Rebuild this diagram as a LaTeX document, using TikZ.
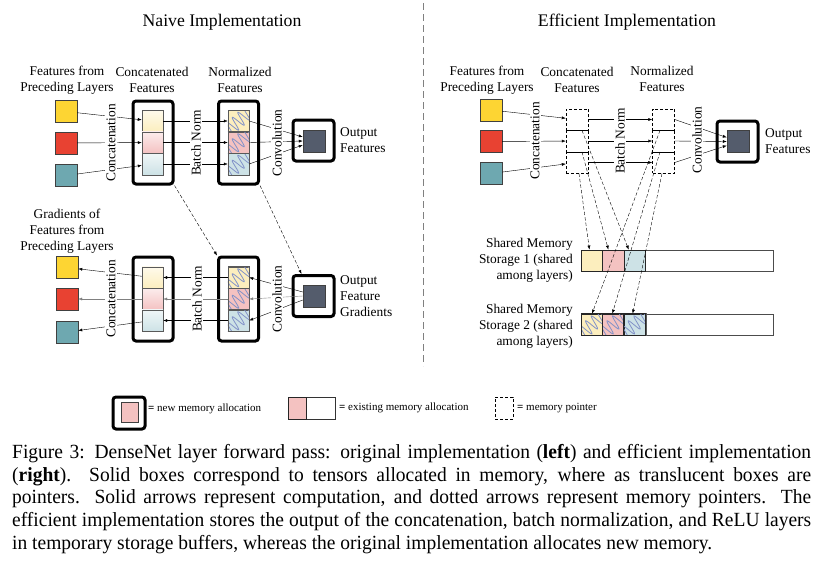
\documentclass[tikz,border=0pt]{standalone}
\usepackage{fontspec}
\setmainfont{Liberation Serif}
\newfontfamily\capfont[FakeStretch=0.97]{Liberation Serif}
\usetikzlibrary{arrows.meta,decorations.pathmorphing}

\definecolor{fy}{RGB}{253,213,51}
\definecolor{fr}{RGB}{232,66,50}
\definecolor{ft}{RGB}{110,168,176}
\definecolor{py}{RGB}{252,238,190}
\definecolor{pr}{RGB}{244,194,193}
\definecolor{pt}{RGB}{205,226,230}
\definecolor{outc}{RGB}{84,92,108}
\definecolor{wavec}{RGB}{130,146,200}

\tikzset{
  >={Latex[length=4pt,width=3pt]},
  feat/.style={draw=black!75, minimum size=22pt, inner sep=0pt},
  cellbox/.style={draw=black!65, minimum width=21pt, minimum height=21.5pt, inner sep=0pt},
  ptrbox/.style={draw, dash pattern=on 3pt off 2pt, minimum width=22pt, minimum height=21.5pt, inner sep=0pt},
  storecell/.style={draw=black!85, line width=0.8pt, minimum width=21.3pt, minimum height=21pt, inner sep=0pt, anchor=west},
  newmem/.style={draw, line width=3pt, rounded corners=3pt, inner sep=0pt},
  lbl/.style={font=\fontsize{13.4}{16}\selectfont, align=center, inner sep=0pt},
  rotlbl/.style={lbl, rotate=90, fill=white, inner sep=1pt},
  titlelbl/.style={font=\fontsize{17.7}{20}\selectfont, inner sep=0pt},
  legendlbl/.style={font=\fontsize{11}{13}\selectfont, anchor=west, inner sep=0pt},
  wave/.style={draw=wavec, line width=0.8pt, decorate, decoration={snake, amplitude=7pt, segment length=7.5pt}},
  ptrarrow/.style={->, dash pattern=on 3.5pt off 2pt}
}

% celula com ondas (features normalizadas)
\newcommand{\wavecell}[1]{%
  \begin{scope}
    \clip (#1.south west) rectangle (#1.north east);
    \draw[wave] ([shift={(-4pt,-2pt)}]#1.south west) -- ([shift={(4pt,2pt)}]#1.north east);
  \end{scope}
  \draw[black!65] (#1.south west) rectangle (#1.north east);}

\begin{document}
\begin{tikzpicture}[x=1pt, y=-1pt] %Coordenadas em pixels, y para baixo
  \useasboundingbox (0,0) rectangle (831,563);
  %Titulos e separador
  \node[titlelbl] (tNaive) at (222,22) {Naive Implementation};
  \node[titlelbl] (tEff) at (627,22) {Efficient Implementation};
  \draw[gray, dash pattern=on 7pt off 4pt] (423,3) -- (423,366); %Linha divisoria

  %Naive: passo forward
  \node[newmem, minimum width=40pt, minimum height=83pt] (catA) at (153,142.5) {};
  \node[newmem, minimum width=40pt, minimum height=83pt] (normA) at (238.5,142.5) {};
  \node[newmem, minimum size=41pt] (outA) at (313.5,140.5) {};
  \node[feat, fill=outc] (outAi) at (314,141) {};
  \foreach \c/\p/\s/\y/\dy/\n in {fy/py/111.5/121/4/1, fr/pr/143/142.5/0/2, ft/pt/175.5/164/-4/3}{
    \node[feat, fill=\c] (fA\n) at (66,\s) {};
    \node[cellbox, top color=\p!30, bottom color=\p] (cA\n) at (152.5,\y) {};
    \node[cellbox, fill=\p] (nA\n) at (238.5,\y) {};
    \wavecell{nA\n}
    \draw[->] (fA\n) -- (cA\n);
    \draw[->] (cA\n.east) -- (nA\n.west);
    \draw[->] (nA\n.east) -- ([yshift=\dy pt]outAi.west);
  }
  \node[lbl] (lFeatA) at (67,80) {Features from\\Preceding Layers};
  \node[lbl] (lCatA) at (152,80) {Concatenated\\Features};
  \node[lbl] (lNormA) at (240,80) {Normalized\\Features};
  \node[rotlbl] (rCatA) at (111,143) {Concatenation};
  \node[rotlbl] (rBnA) at (196,143) {Batch Norm};
  \node[rotlbl] (rConvA) at (277,143) {Convolution};
  \node[lbl, align=left, anchor=west] (lOutA) at (340,140) {Output\\Features};

  %Naive: gradientes
  \node[newmem, minimum width=40pt, minimum height=84pt] (catB) at (153,299) {};
  \node[newmem, minimum width=40pt, minimum height=84pt] (normB) at (238.5,299) {};
  \node[newmem, minimum size=41pt] (outB) at (313.5,296) {};
  \node[feat, fill=outc] (outBi) at (314,296) {};
  \foreach \c/\p/\s/\y/\dy/\lc/\n in {fy/py/267.5/277.5/4/black/1, fr/pr/299/299/0/gray/2, ft/pt/332/320.5/-4/black/3}{
    \node[feat, fill=\c] (fB\n) at (67,\s) {};
    \node[cellbox, top color=\p!30, bottom color=\p] (cB\n) at (152.5,\y) {};
    \node[cellbox, fill=\p] (nB\n) at (238.5,\y) {};
    \wavecell{nB\n}
    \draw[->, draw=\lc] (cB\n) -- (fB\n);
    \draw[->, draw=\lc] (nB\n.west) -- (cB\n.east);
    \draw[->, draw=\lc] ([yshift=\dy pt]outBi.west) -- (nB\n.east);
  }
  \draw[->, dash pattern=on 3.5pt off 2pt] (catA.south east) -- (normB.north west); %Ponteiros
  \draw[->, dash pattern=on 3.5pt off 2pt] (normA.south east) -- ([xshift=10pt]outB.north west);
  \node[lbl] (lFeatB) at (67,231) {Gradients of\\Features from\\Preceding Layers};
  \node[rotlbl] (rCatB) at (111,299) {Concatenation};
  \node[rotlbl] (rBnB) at (197,299) {Batch Norm};
  \node[rotlbl] (rConvB) at (277,299) {Convolution};
  \node[lbl, align=left, anchor=west] (lOutB) at (340,296) {Output\\Feature\\Gradients};

  %Efficient: ponteiros e memoria compartilhada
  \node[newmem, minimum size=41pt] (outC) at (737.5,141.5) {};
  \node[feat, fill=outc] (outCi) at (738,141.5) {};
  \node[draw=black!70, line width=0.8pt, minimum width=192pt, minimum height=21pt, inner sep=0pt, anchor=west] (st1) at (581,260.5) {};
  \node[draw=black!70, line width=0.8pt, minimum width=192pt, minimum height=21pt, inner sep=0pt, anchor=west] (st2) at (581,324.5) {};
  \foreach \c/\p/\s/\y/\dy/\x/\n in {fy/py/110/119.5/4/581/1, fr/pr/141.5/141/0/602.3/2, ft/pt/173.5/162.5/-4/623.6/3}{
    \node[feat, fill=\c] (fC\n) at (491,\s) {};
    \node[ptrbox] (cC\n) at (577,\y) {};
    \node[ptrbox] (nC\n) at (663.5,\y) {};
    \node[storecell, fill=\p] (s1\n) at (\x,260.5) {};
    \node[storecell, fill=\p] (s2\n) at (\x,324.5) {};
    \wavecell{s2\n}
    \draw[black!85, line width=0.8pt] (s2\n.south west) rectangle (s2\n.north east);
    \draw[->] (fC\n) -- (cC\n);
    \draw[->] (cC\n.east) -- (nC\n.west);
    \draw[->] (nC\n.east) -- ([yshift=\dy pt]outCi.west);
  }
  \draw[ptrarrow] ([xshift=2pt]cC3.south) -- ([xshift=-2.6pt]s11.north);
  \draw[ptrarrow] ([xshift=5pt]cC2.south) -- ([xshift=-5pt]s12.north);
  \draw[ptrarrow] ([xshift=5pt]cC1.south) -- ([xshift=-6pt]s13.north);
  \draw[ptrarrow] ([xshift=-3.5pt]nC1.south) -- (s21.north);
  \draw[ptrarrow] ([xshift=-3.5pt]nC2.south) -- ([xshift=-1pt]s22.north);
  \draw[ptrarrow] ([xshift=-1.5pt]nC3.south) -- ([xshift=-2pt]s23.north);
  \node[lbl] (lFeatC) at (487,80) {Features from\\Preceding Layers};
  \node[lbl] (lCatC) at (577,80) {Concatenated\\Features};
  \node[lbl] (lNormC) at (662,79) {Normalized\\Features};
  \node[rotlbl] (rCatC) at (535,141) {Concatenation};
  \node[rotlbl] (rBnC) at (620,141) {Batch Norm};
  \node[rotlbl] (rConvC) at (697,140) {Convolution};
  \node[lbl, align=left, anchor=west] (lOutC) at (765,141) {Output\\Features};
  \node[lbl, align=right, anchor=east] (lSt1) at (573,260.5) {Shared Memory\\Storage 1 (shared\\among layers)};
  \node[lbl, align=right, anchor=east] (lSt2) at (573,326.5) {Shared Memory\\Storage 2 (shared\\among layers)};

  %Legenda
  \node[newmem, minimum size=32pt] (legNew) at (129,413) {};
  \node[draw=black!75, fill=pr, minimum width=17pt, minimum height=20pt, inner sep=0pt] (legNewi) at (129.5,412) {};
  \node[legendlbl] (tNew) at (148,409) {\textbf{=} new memory allocation};
  \node[draw=black!80, line width=0.8pt, minimum width=47pt, minimum height=22pt, inner sep=0pt, anchor=west] (legEx) at (288,408) {};
  \node[storecell, fill=pr, minimum width=18pt, minimum height=22pt] (legExi) at (288,408) {};
  \node[legendlbl] (tEx) at (339,408) {\textbf{=} existing memory allocation};
  \node[ptrbox, minimum width=18pt, minimum height=22pt] (legPtr) at (504,408) {};
  \node[legendlbl] (tPtr) at (517,408) {\textbf{=} memory pointer};

  %Texto da figura
  \node[anchor=north west, text width=799pt, align=justify, inner sep=0pt, font=\capfont\fontsize{20.1}{22.8}\selectfont] (caption) at (12,444)
    {\hyphenpenalty=10000\relax Figure 3: DenseNet layer forward pass: original implementation (\textbf{left}) and efficient implementation\linebreak
     (\textbf{right}).  Solid boxes correspond to tensors allocated in memory, where as translucent boxes are\linebreak
     pointers. Solid arrows represent computation, and dotted arrows represent memory pointers. The\linebreak
     efficient implementation stores the output of the concatenation, batch normalization, and ReLU layers\linebreak
     in temporary storage buffers, whereas the original implementation allocates new memory.};
\end{tikzpicture}
\end{document}
